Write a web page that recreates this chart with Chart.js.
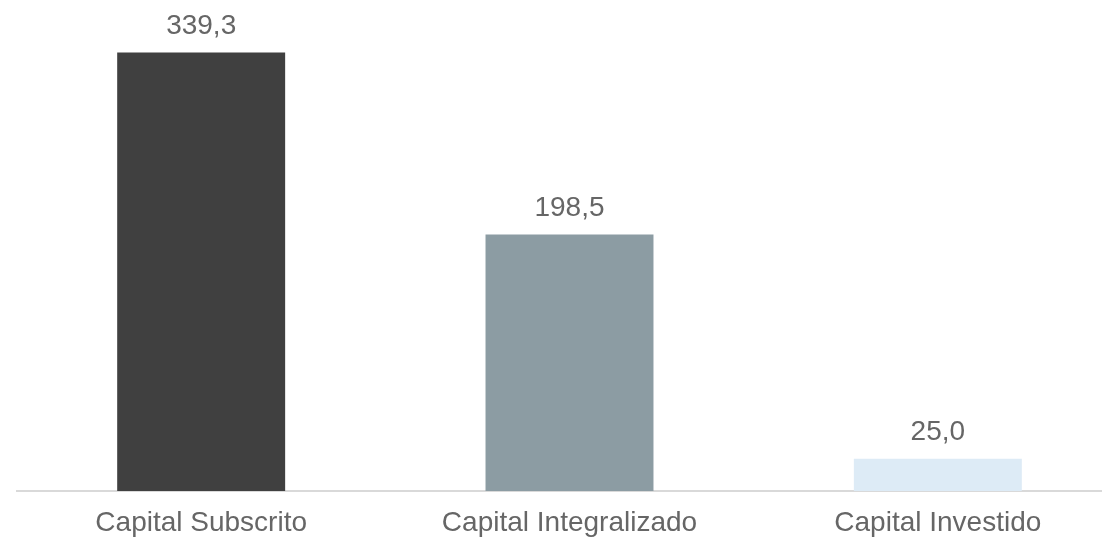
<!DOCTYPE html>
<html>
<head>
<meta charset="utf-8">
<script src="https://cdn.jsdelivr.net/npm/chart.js@4.4.1/dist/chart.umd.min.js"></script>
<style>
  html, body { margin: 0; padding: 0; background: #fff; overflow: hidden; }
  #wrap { width: 1122px; height: 540px; }
</style>
</head>
<body>
<div id="wrap"><canvas id="capitalChart" width="1122" height="540"></canvas></div>
<script>
// Dados do gráfico
const categorias = ['Capital Subscrito', 'Capital Integralizado', 'Capital Investido'];
const valores = [339.3, 198.5, 25.0];
const coresBarras = ['#404040', '#8c9ca3', '#ddebf6'];

const TEXT_COLOR = '#666666';
const FONT = 'Liberation Sans, Arial, sans-serif';

// Formato pt-BR (vírgula decimal)
const fmt = (v) => v.toFixed(1).replace('.', ',');

// Rótulos acima das barras
const valueLabels = {
    id: 'valueLabels',
    afterDatasetsDraw(chart) {
        const { ctx } = chart;
        const meta = chart.getDatasetMeta(0);
        ctx.save();
        ctx.fillStyle = TEXT_COLOR;
        ctx.font = `28px ${FONT}`;
        ctx.textAlign = 'center';
        ctx.textBaseline = 'alphabetic';
        meta.data.forEach((bar, i) => {
            ctx.fillText(fmt(valores[i]), bar.x, bar.y - 19);
        });
        ctx.restore();
    }
};

new Chart(document.getElementById('capitalChart'), {
    type: 'bar',
    data: {
        labels: categorias,
        datasets: [{
            data: valores,
            backgroundColor: coresBarras,
            borderWidth: 0,
            barPercentage: 0.456,
            categoryPercentage: 1
        }]
    },
    options: {
        responsive: false,
        animation: false,
        layout: { padding: { left: 17, right: 0, top: 0, bottom: 0 } },
        plugins: {
            legend: { display: false },
            tooltip: { enabled: false }
        },
        scales: {
            x: {
                grid: { display: false, drawTicks: false, tickLength: 0 },
                border: { display: true, color: '#d9d9d9', width: 2 },
                ticks: {
                    color: TEXT_COLOR,
                    font: { family: FONT, size: 28 },
                    padding: 15
                },
                afterFit: (scale) => { scale.height = 49; }
            },
            y: {
                display: false,
                min: 0,
                max: 380
            }
        }
    },
    plugins: [valueLabels]
});
</script>
</body>
</html>
